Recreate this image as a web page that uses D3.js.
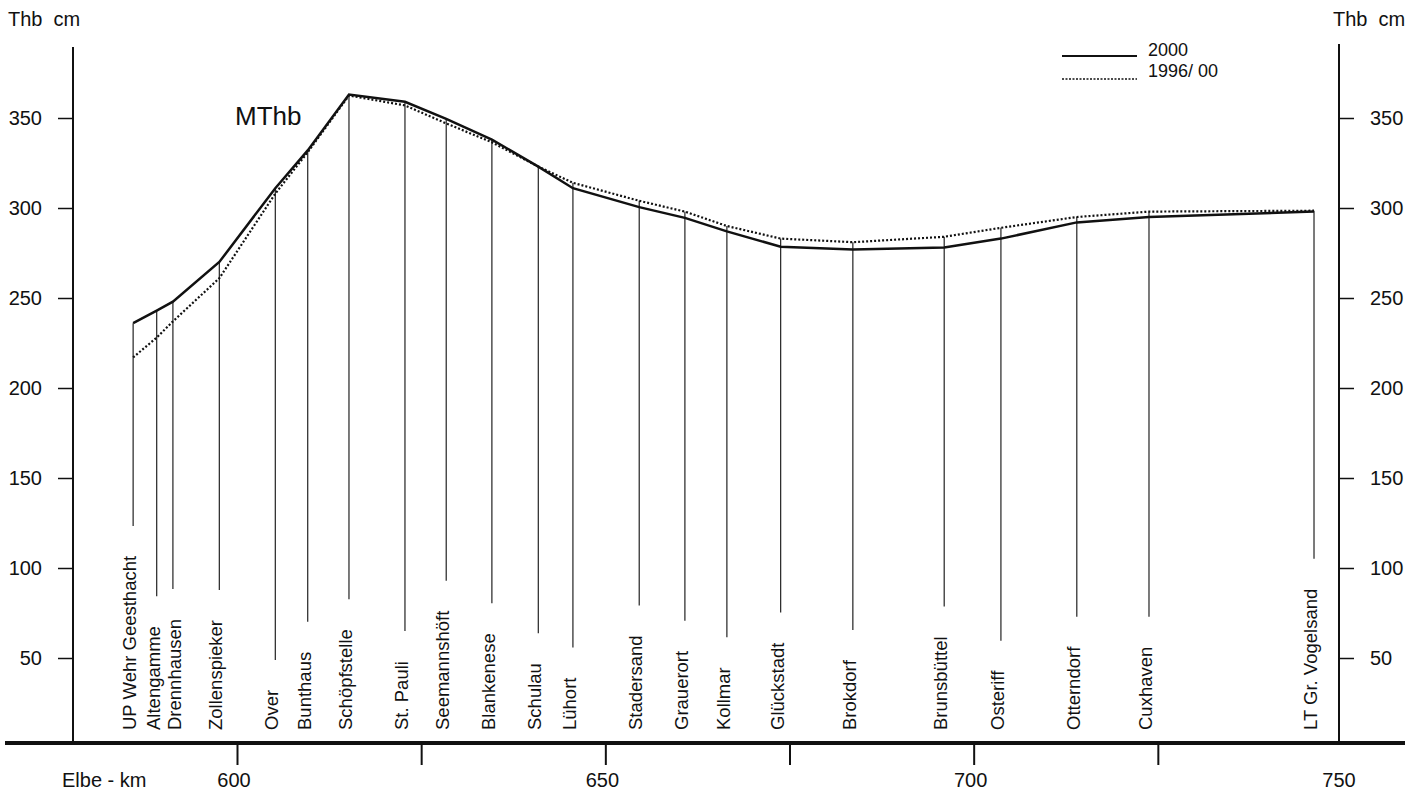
<!DOCTYPE html>
<html>
<head>
<meta charset="utf-8">
<script src="https://cdn.jsdelivr.net/npm/d3@7"></script>
<style>
  body { margin: 0; background: #fff; }
  text { font-family: "Liberation Sans", Arial, sans-serif; fill: #111; }
</style>
</head>
<body>
<div id="chart"></div>
<script>
// Elbe gauges, Elbe-km and mean high water (MThb, cm)
const stations = ["UP Wehr Geesthacht", "Altengamme", "Drennhausen", "Zollenspieker", "Over", "Bunthaus",
  "Schöpfstelle", "St. Pauli", "Seemannshöft", "Blankenese", "Schulau", "Lühort", "Stadersand", "Grauerort",
  "Kollmar", "Glückstadt", "Brokdorf", "Brunsbüttel", "Osteriff", "Otterndorf", "Cuxhaven", "LT Gr. Vogelsand"];
const km = [585.9, 589.1, 591.3, 597.6, 605.2, 609.6, 615.2, 622.8, 628.4, 634.6, 640.9, 645.6,
  654.6, 660.8, 666.5, 673.8, 683.6, 696.0, 703.7, 714.0, 723.8, 746.2];
const mthb2000 = [236, 243, 248, 270, 311, 332, 363, 359, 349.5, 338, 323, 311,
  300.5, 294.5, 287, 278.5, 277, 278, 283, 292, 295, 298];
const mthb9600 = [217, 228, 237, 261, 308, 331, 362.5, 357, 347, 336.5, 323, 314,
  304, 298, 290, 283, 281, 284, 289, 295, 298, 298.5];

const yTicks = [50, 100, 150, 200, 250, 300, 350];
const kmTicks = [600, 625, 650, 675, 700, 725];
const kmLabels = [600, 650, 700, 750];
const legendItems = ["2000", "1996/ 00"];

const W = 1424, H = 790;
const leftAxisX = 73, rightAxisX = 1339, baseY = 743;

const svg = d3.select("#chart").append("svg")
  .attr("width", W)
  .attr("height", H);

const x = d3.scaleLinear().domain([600, 750]).range([237, 1342]);
const y = d3.scaleLinear().domain([50, 350]).range([658, 118]);

// y axes
const leftAxis = svg.append("g").attr("transform", `translate(${leftAxisX},0)`)
  .call(d3.axisLeft(y).tickValues(yTicks).tickSize(15).tickPadding(16));
const rightAxis = svg.append("g").attr("transform", `translate(${rightAxisX},0)`)
  .call(d3.axisRight(y).tickValues(yTicks).tickSize(15).tickPadding(16));
[leftAxis, rightAxis].forEach(g => {
  g.select(".domain").remove();
  g.selectAll(".tick line").attr("stroke", "#111").attr("stroke-width", 1.5);
  g.selectAll(".tick text").style("font-size", "20px").attr("fill", "#111")
    .style("font-family", "'Liberation Sans', Arial, sans-serif");
});
svg.append("line").attr("x1", leftAxisX).attr("x2", leftAxisX).attr("y1", 47).attr("y2", baseY)
  .attr("stroke", "#111").attr("stroke-width", 2);
svg.append("line").attr("x1", rightAxisX).attr("x2", rightAxisX).attr("y1", 44).attr("y2", baseY)
  .attr("stroke", "#111").attr("stroke-width", 2);

svg.append("text").attr("x", 8).attr("y", 26).style("font-size", "20px").attr("xml:space", "preserve").text("Thb  cm");
svg.append("text").attr("x", 1333).attr("y", 26).style("font-size", "20px").attr("xml:space", "preserve").text("Thb  cm");

// x axis (Elbe-km)
const xAxis = svg.append("g").attr("transform", `translate(0,${baseY})`)
  .call(d3.axisBottom(x).tickValues(kmTicks).tickSize(22).tickFormat(""));
xAxis.select(".domain").remove();
xAxis.selectAll(".tick line").attr("stroke", "#111").attr("stroke-width", 2);
svg.append("line").attr("x1", 5).attr("x2", 1405).attr("y1", baseY).attr("y2", baseY)
  .attr("stroke", "#111").attr("stroke-width", 4);
svg.selectAll(".kmlab").data(kmLabels).join("text")
  .attr("class", "kmlab")
  .attr("x", d => x(d) - 3)
  .attr("y", 787)
  .attr("text-anchor", "middle")
  .style("font-size", "20px")
  .text(d => d);
svg.append("text").attr("x", 62).attr("y", 787).style("font-size", "20px").text("Elbe - km");

// station labels (nudged right when two gauges sit too close) and drop lines
const labelX = [];
km.forEach((k, i) => {
  const want = x(k) + 3;
  labelX.push(i > 0 ? Math.max(want, labelX[i - 1] + 21) : want);
});
const labels = svg.selectAll(".stlab").data(stations).join("text")
  .attr("class", "stlab")
  .attr("transform", (d, i) => `translate(${labelX[i]},730) rotate(-90)`)
  .style("font-size", "18.5px")
  .text(d => d);
const labelLen = labels.nodes().map(n => n.getComputedTextLength());

svg.selectAll(".drop").data(stations).join("line")
  .attr("class", "drop")
  .attr("x1", (d, i) => x(km[i]))
  .attr("x2", (d, i) => x(km[i]))
  .attr("y1", (d, i) => y(Math.max(mthb2000[i], mthb9600[i])))
  .attr("y2", (d, i) => 730 - labelLen[i] - 30)
  .attr("stroke", "#222")
  .attr("stroke-width", 1.2);

// MThb lines
const mthbLine = d3.line().x((d, i) => x(km[i])).y(d => y(d));
svg.append("path").datum(mthb9600)
  .attr("fill", "none").attr("stroke", "#111").attr("stroke-width", 2.2)
  .attr("stroke-dasharray", "2,2")
  .attr("d", mthbLine);
svg.append("path").datum(mthb2000)
  .attr("fill", "none").attr("stroke", "#111").attr("stroke-width", 2.5)
  .attr("d", mthbLine);

svg.append("text").attr("x", 235).attr("y", 125).style("font-size", "26px").text("MThb");

// legend
const legend = svg.append("g");
legendItems.forEach((name, i) => {
  const ly = 56 + i * 23;
  legend.append("line").attr("x1", 1062).attr("x2", 1137).attr("y1", ly).attr("y2", ly)
    .attr("stroke", "#111").attr("stroke-width", i === 0 ? 2 : 1.5)
    .attr("stroke-dasharray", i === 0 ? null : "2,1.5");
  legend.append("text").attr("x", 1148).attr("y", ly - (i === 0 ? 0 : 2))
    .style("font-size", "18px").text(name);
});
</script>
</body>
</html>
